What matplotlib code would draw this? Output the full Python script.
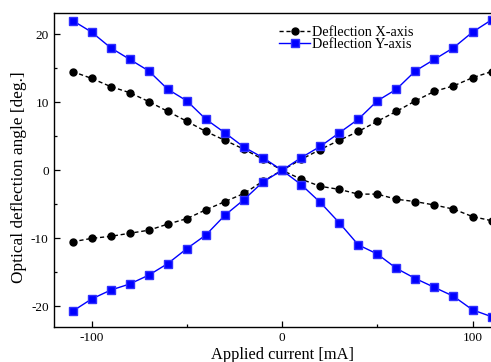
#!/usr/bin/env python3
"""Optical deflection angle vs applied current, X and Y axes."""

import matplotlib
matplotlib.use("Agg")
import matplotlib.pyplot as plt
from matplotlib.ticker import MultipleLocator

# ---------------------------------------------------------------------------
# Data (two sweeps per axis)
# ---------------------------------------------------------------------------
current_ma = [-110, -100, -90, -80, -70, -60, -50, -40, -30, -20, -10, 0,
              10, 20, 30, 40, 50, 60, 70, 80, 90, 100, 110]

defl_x_sweep1 = [14.5, 13.5, 12.3, 11.4, 10.1, 8.65, 7.2, 5.7, 4.4, 3.1, 1.6, 0,
                 -1.3, -2.35, -2.8, -3.5, -3.5, -4.25, -4.6, -5.1, -5.7, -6.8, -7.4]
defl_x_sweep2 = [-10.5, -10.0, -9.7, -9.25, -8.8, -7.9, -7.1, -5.8, -4.6, -3.4, -1.6, 0,
                 1.6, 3.05, 4.4, 5.7, 7.2, 8.65, 10.2, 11.6, 12.4, 13.6, 14.5]

defl_y_sweep1 = [22.0, 20.3, 18.0, 16.3, 14.6, 11.9, 10.2, 7.5, 5.5, 3.4, 1.85, 0,
                 -2.1, -4.7, -7.7, -10.95, -12.3, -14.4, -15.9, -17.2, -18.5, -20.5, -21.5]
defl_y_sweep2 = [-20.7, -18.9, -17.6, -16.7, -15.4, -13.7, -11.5, -9.5, -6.6, -4.3, -1.7, 0,
                 1.85, 3.5, 5.5, 7.5, 10.2, 11.9, 14.6, 16.3, 18.0, 20.3, 22.1]

plt.rcParams["font.family"] = ["Liberation Serif", "DejaVu Serif"]
plt.rcParams["axes.unicode_minus"] = False

fig = plt.figure(figsize=(4.91, 3.62), dpi=100)
# the right part of the frame lies outside the picture, as in the reference
ax = fig.add_axes([0.109, 0.097, 0.931, 0.867])

black_style = dict(color="black", marker="o", markersize=5, linewidth=1.0,
                   linestyle=(0, (3, 2)))
blue_style = dict(color="#0000ff", marker="s", markersize=5.5, linewidth=1.0,
                  markeredgecolor="#3030ff")

ax.plot(current_ma, defl_x_sweep1, label="Deflection X-axis", **black_style)
ax.plot(current_ma, defl_x_sweep2, **black_style)
ax.plot(current_ma, defl_y_sweep1, label="Deflection Y-axis", **blue_style)
ax.plot(current_ma, defl_y_sweep2, **blue_style)

ax.set_xlim(-120, 120)
ax.set_ylim(-23, 23.1)
ax.xaxis.set_major_locator(MultipleLocator(100))
ax.xaxis.set_minor_locator(MultipleLocator(50))
ax.yaxis.set_major_locator(MultipleLocator(10))
ax.yaxis.set_minor_locator(MultipleLocator(5))
ax.tick_params(which="both", direction="in", labelsize=9.5, width=0.9)
ax.tick_params(which="major", length=4.5)
ax.tick_params(which="minor", length=2.5)
for sp in ax.spines.values():
    sp.set_linewidth(1.0)

ax.set_xlabel("Applied current [mA]", fontsize=11.8, labelpad=2)
ax.set_ylabel("Optical deflection angle [deg.]", fontsize=12.4)
ax.yaxis.set_label_coords(-0.058, 0.476)

ax.legend(loc="upper left", bbox_to_anchor=(0.472, 0.99), frameon=False,
          fontsize=10.3, handlelength=2.15, handletextpad=0.15,
          labelspacing=-0.05, borderaxespad=0.3)

fig.savefig("out.png", dpi=100)
